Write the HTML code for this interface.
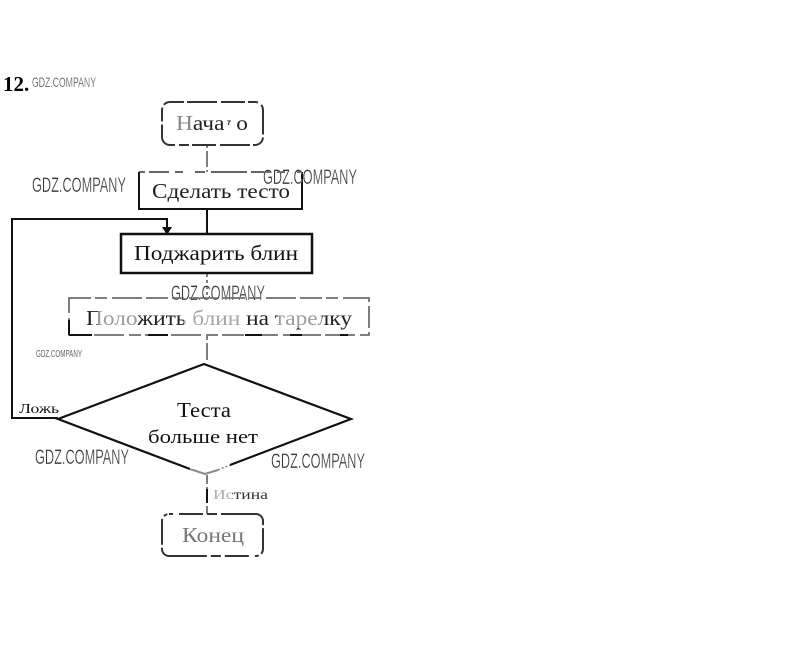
<!DOCTYPE html>
<html><head><meta charset="utf-8"><style>
html,body{margin:0;padding:0;background:#fff}
svg{display:block}
text{font-family:"Liberation Serif",serif}
.w{font-family:"Liberation Sans",sans-serif;fill:#333;font-weight:400;stroke:#fff;stroke-width:.35}
</style></head><body>
<svg width="809" height="650" viewBox="0 0 809 650" xmlns="http://www.w3.org/2000/svg">
<rect width="809" height="650" fill="#fff"/>
<text x="3" y="91" font-size="21" font-weight="700" fill="#000">12.</text>

<!-- connectors -->
<g stroke="#555" stroke-width="1.5" fill="none">
<line x1="207" y1="146" x2="207" y2="172" stroke-dasharray="2 3 14 0"/>
<line x1="207" y1="274" x2="207" y2="298" stroke-dasharray="3 3"/>
<line x1="207" y1="336" x2="207" y2="360" stroke-dasharray="4 3 17 0"/>
<line x1="207" y1="475" x2="207" y2="514" stroke-dasharray="9 3 16 3 8 0"/>
</g>
<line x1="207" y1="489" x2="207" y2="503" stroke="#111" stroke-width="2"/>
<line x1="207" y1="209" x2="207" y2="234" stroke="#111" stroke-width="2"/>
<path d="M58 418H12V219H167V228" fill="none" stroke="#111" stroke-width="2"/>
<path d="M162 227H172L167 235Z" fill="#111"/>

<!-- start -->
<rect x="162" y="102" width="101" height="43" rx="8" fill="#fff" stroke="#333" stroke-width="2" stroke-dasharray="14 3 30 4 24 3 10 4 30 3"/>
<text x="212" y="130" font-size="21" text-anchor="middle" textLength="72" lengthAdjust="spacingAndGlyphs" fill="#222">Начало</text>
<rect x="176" y="112" width="16" height="20" fill="#fff" opacity=".45"/>
<rect x="224" y="125" width="13" height="6" fill="#fff"/>
<rect x="231" y="118" width="6" height="8" fill="#fff"/>

<!-- make dough -->
<path d="M139 172V209H302V172" fill="#fff" stroke="#111" stroke-width="2"/>
<line x1="139" y1="172" x2="302" y2="172" stroke="#333" stroke-width="1.5" stroke-dasharray="6 4 20 6 8 12 10 6 30 0"/>
<text x="221" y="198" font-size="21" text-anchor="middle" textLength="138" lengthAdjust="spacingAndGlyphs" fill="#222">Сделать тесто</text>

<!-- fry -->
<rect x="121" y="234" width="191" height="39" fill="#fff" stroke="#111" stroke-width="2.5"/>
<text x="216" y="260" font-size="21" text-anchor="middle" textLength="164" lengthAdjust="spacingAndGlyphs" fill="#111">Поджарить блин</text>

<!-- put -->
<rect x="69" y="298" width="300" height="37" fill="#fff" stroke="#555" stroke-width="1.5" stroke-dasharray="22 4 12 5 30 4"/>
<path d="M69 335H92M148 335H168M245 335H262M290 335H302M340 335H348M69 320V335" stroke="#111" stroke-width="2" fill="none"/>
<text x="219" y="325" font-size="21" text-anchor="middle" textLength="266" lengthAdjust="spacingAndGlyphs" fill="#222">Положить блин на тарелку</text>
<rect x="98" y="308" width="40" height="20" fill="#fff" opacity=".55"/>
<rect x="184" y="308" width="56" height="20" fill="#fff" opacity=".6"/>
<rect x="278" y="308" width="44" height="20" fill="#fff" opacity=".55"/>

<!-- decision -->
<path d="M190 469L205 474L218 470" fill="none" stroke="#888" stroke-width="2"/>
<path d="M218 470L230 465" fill="none" stroke="#888" stroke-width="1.5" stroke-dasharray="2 2"/>
<path d="M190 469L58 419L204 364L351 419L230 465" fill="#fff" stroke="#111" stroke-width="2.2"/>
<text x="204" y="417" font-size="21" text-anchor="middle" textLength="54" lengthAdjust="spacingAndGlyphs" fill="#111">Теста</text>
<text x="203" y="443" font-size="19" text-anchor="middle" textLength="110" lengthAdjust="spacingAndGlyphs" fill="#111">больше нет</text>
<text x="19" y="413" font-size="14" textLength="40" lengthAdjust="spacingAndGlyphs" fill="#111">Ложь</text>
<text x="213" y="499" font-size="14" textLength="55" lengthAdjust="spacingAndGlyphs" fill="#333">Истина</text>
<rect x="213" y="488" width="19" height="12" fill="#fff" opacity=".6"/>

<!-- end -->
<rect x="162" y="514" width="101" height="42" rx="7" fill="#fff" stroke="#333" stroke-width="2" stroke-dasharray="4 6 24 4 10 4 50 3 26 3"/>
<text x="213" y="542" font-size="21" text-anchor="middle" textLength="62" lengthAdjust="spacingAndGlyphs" fill="#777">Конец</text>

<!-- watermarks -->
<text class="w" x="32" y="87" font-size="14" textLength="64" lengthAdjust="spacingAndGlyphs">GDZ.COMPANY</text>
<text class="w" x="32" y="192" font-size="21" textLength="94" lengthAdjust="spacingAndGlyphs">GDZ.COMPANY</text>
<text class="w" x="263" y="184" font-size="21" textLength="94" lengthAdjust="spacingAndGlyphs">GDZ.COMPANY</text>
<text class="w" x="171" y="300" font-size="21" textLength="94" lengthAdjust="spacingAndGlyphs">GDZ.COMPANY</text>
<text class="w" x="36" y="357" font-size="10" textLength="46" lengthAdjust="spacingAndGlyphs" style="stroke:none;fill:#666">GDZ.COMPANY</text>
<text class="w" x="35" y="464" font-size="21" textLength="94" lengthAdjust="spacingAndGlyphs">GDZ.COMPANY</text>
<text class="w" x="271" y="468" font-size="21" textLength="94" lengthAdjust="spacingAndGlyphs">GDZ.COMPANY</text>
</svg>
</body></html>
